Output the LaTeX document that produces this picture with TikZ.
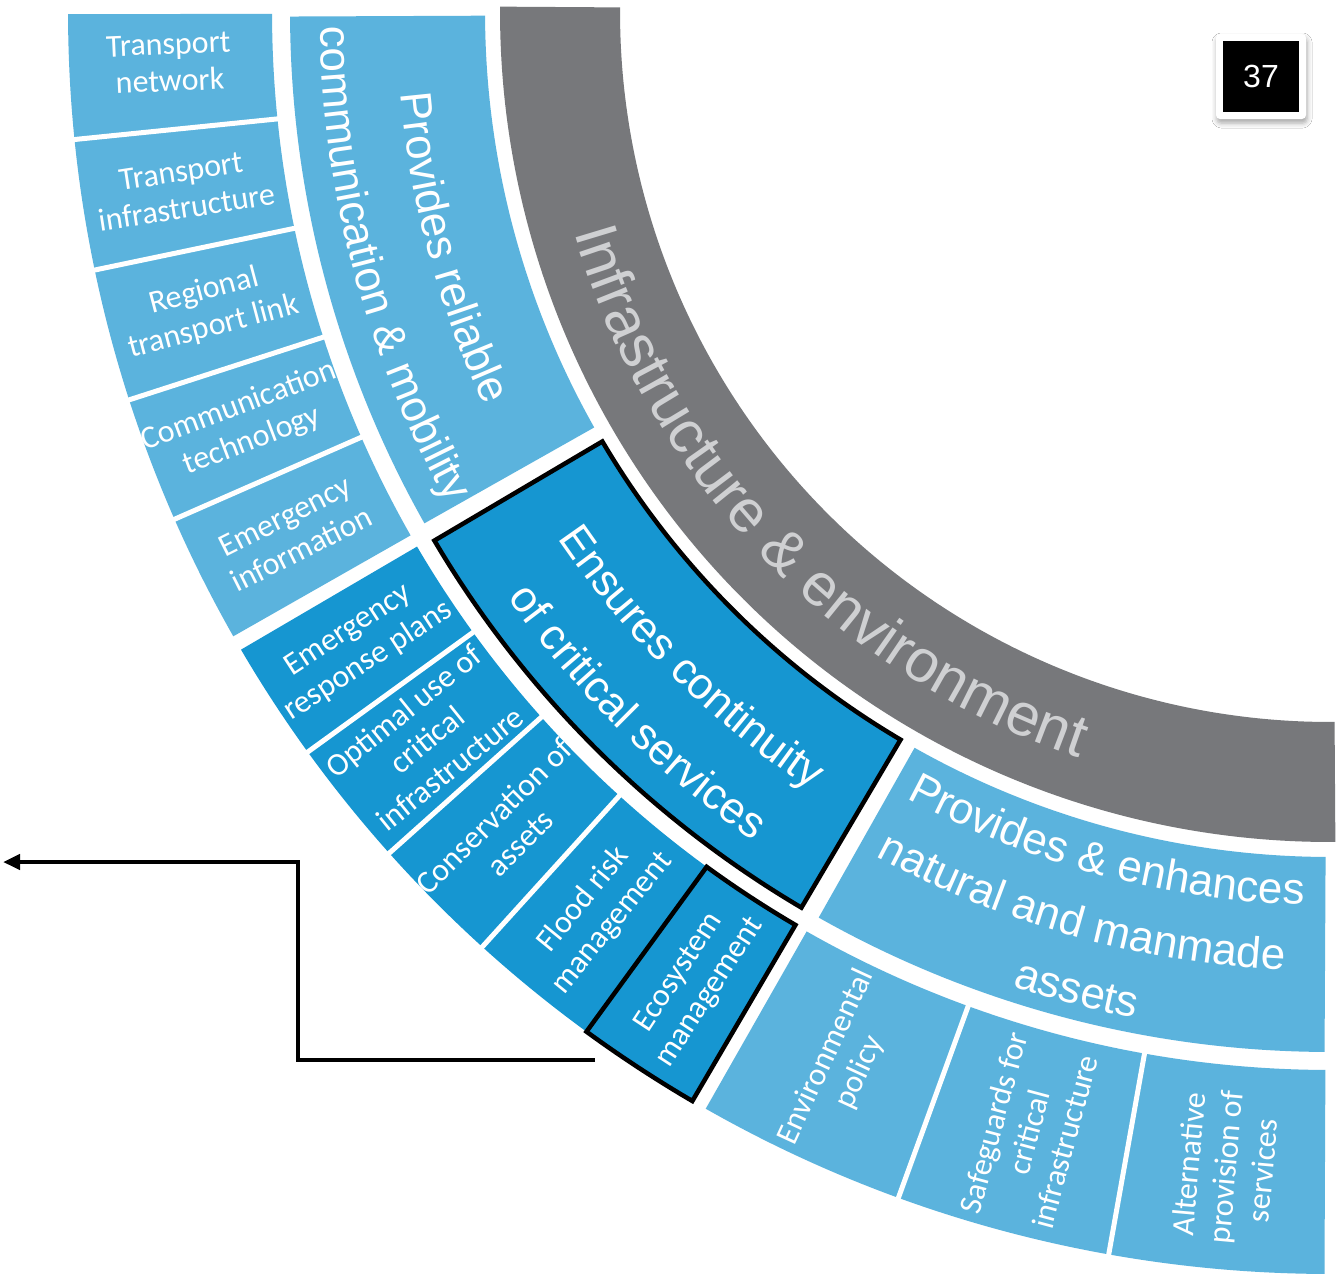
\documentclass[tikz,border=0pt]{standalone}
\usepackage{fontspec}
\setmainfont{Liberation Sans}
\newfontfamily\arialf{Liberation Sans}
\newfontfamily\carlitof{Carlito}
\usetikzlibrary{decorations.text,arrows.meta,shadows.blur}
\definecolor{lightblue}{HTML}{5BB3DD}
\definecolor{darkblue}{HTML}{1696D1}
\definecolor{ringgray}{HTML}{77787B}
\definecolor{graytext}{HTML}{CFD0D2}
\newcommand\mymid{\arialf\fontsize{44pt}{44pt}\selectfont}
\newcommand\mygray{\arialf\fontsize{60pt}{60pt}\selectfont}
\newcommand\myouter{\carlitof\fontsize{32pt}{37pt}\selectfont}
\newcommand\numfont{\arialf\fontsize{32pt}{32pt}\selectfont}
\newcommand\ringsector[5]{\path[#5] (#1:#3) arc[start angle=#1,end angle=#2,radius=#3] -- (#2:#4) arc[start angle=#2,end angle=#1,radius=#4] -- cycle;}
\tikzset{
  segtext/.style={text=white, align=center, font=\myouter, inner sep=0pt},
  sepline/.style={white, line width=5pt},
  outline/.style={draw=black, line width=4.5pt, line join=miter},
  connector/.style={line width=4.5pt, line join=miter, -{Triangle[length=17pt,width=15pt]}}
}
\begin{document}
\begin{tikzpicture}
\useasboundingbox (0,0) rectangle (1338pt,-1274pt);
\fill[white] (0,0) rectangle (1338pt,-1274pt);
\begin{scope}[shift={(1330pt,-12pt)}]
 % gray ring
 \ringsector{179.63}{270.37}{710pt}{830pt}{fill=ringgray}
 % middle ring
 \ringsector{180.25}{209.45}{845pt}{1040pt}{fill=lightblue}
 \ringsector{240.55}{269.7}{845pt}{1040pt}{fill=lightblue}
 \ringsector{210.55}{239.45}{845pt}{1040pt}{fill=darkblue, outline}
 % outer ring
 \ringsector{180.1}{209.65}{1058pt}{1262pt}{fill=lightblue}
 \ringsector{210.35}{239.65}{1058pt}{1262pt}{fill=darkblue}
 \ringsector{240.35}{269.75}{1058pt}{1262pt}{fill=lightblue}
 \foreach \a in {185.8,191.8,197.9,203.7,215.9,221.8,227.8,250,259.9}
   \draw[sepline] (\a:1050pt) -- (\a:1270pt);
 \ringsector{233.9}{239.65}{1058pt}{1262pt}{outline}
 % gray ring text
 \path[decorate,decoration={text along path,text align=center,text color=graytext,
   text={|\mygray|Infrastructure {\&} environment}}]
   (178.8:787pt) arc[start angle=178.8,end angle=268.8,radius=787pt];
 % middle ring texts
 \path[decorate,decoration={text along path,text align=center,text color=white,
   text={|\mymid|Provides reliable}}]
   (180:933pt) arc[start angle=180,end angle=210,radius=933pt];
 \path[decorate,decoration={text along path,text align=center,text color=white,
   text={|\mymid|communication {\&} mobility}}]
   (180:1010pt) arc[start angle=180,end angle=210,radius=1010pt];
 \path[decorate,decoration={text along path,text align=center,text color=white,
   text={|\mymid|Ensures continuity}}]
   (210.3:935pt) arc[start angle=210.3,end angle=240.3,radius=935pt];
 \path[decorate,decoration={text along path,text align=center,text color=white,
   text={|\mymid|of critical services}}]
   (210.3:1010pt) arc[start angle=210.3,end angle=240.3,radius=1010pt];
 \path[decorate,decoration={text along path,text align=center,text color=white,
   text={|\mymid|Provides {\&} enhances}}]
   (240:893pt) arc[start angle=240,end angle=270,radius=893pt];
 \path[decorate,decoration={text along path,text align=center,text color=white,
   text={|\mymid|natural and manmade}}]
   (239.5:959pt) arc[start angle=239.5,end angle=269.5,radius=959pt];
 \path[decorate,decoration={text along path,text align=center,text color=white,
   text={|\mymid|assets}}]
   (240.5:1025pt) arc[start angle=240.5,end angle=270.5,radius=1025pt];
 % outer ring texts
 \node[segtext, rotate=2.5]   (tnet)  at (182.5:1162pt) {Transport\\network};
 \node[segtext, rotate=8.8]   (tinf)  at (188.8:1160pt)  {Transport\\infrastructure};
 \node[segtext, rotate=14.85] (rlink) at (194.85:1160pt) {Regional\\transport link};
 \node[segtext, rotate=20.8]  (ctech) at (200.8:1160pt)  {Communication\\technology};
 \node[segtext, rotate=26.68] (einfo) at (206.68:1160pt) {Emergency\\information};
 \node[segtext, rotate=33.13] (eresp) at (213.13:1160pt) {Emergency\\response plans};
 \node[segtext, rotate=38.85] (optim) at (218.85:1160pt) {Optimal use of\\critical\\infrastructure};
 \node[segtext, rotate=44.8]  (cons)  at (224.8:1160pt)  {Conservation of\\assets};
 \node[segtext, rotate=50.85] (flood) at (230.85:1160pt) {Flood risk\\management};
 \node[segtext, rotate=56.78] (ecos)  at (236.78:1160pt) {Ecosystem\\management};
 \node[segtext, rotate=65.18] (envp)  at (245.18:1160pt) {Environmental\\policy};
 \node[segtext, rotate=74.95] (safe)  at (254.95:1160pt) {Safeguards for\\critical\\infrastructure};
 \node[segtext, rotate=84.83] (alt)   at (264.83:1160pt) {Alternative\\provision of\\services};
\end{scope}
% connector
\coordinate (arrowstart) at (595pt,-1060pt);
\coordinate (arrowbend) at (298pt,-862pt);
\coordinate (arrowend) at (3pt,-862pt);
\draw[connector] (arrowstart) -| (arrowbend) -- (arrowend);
% page number
\node[fill=white, rounded corners=4pt, minimum width=90pt, minimum height=85pt,
  blur shadow={shadow xshift=1pt, shadow yshift=-4pt, shadow blur radius=5pt, shadow opacity=35}] (pagebox) at (1261pt,-76.5pt) {};
\node[fill=black, minimum width=76pt, minimum height=71pt, text=white, font=\numfont, inner sep=0pt] (pagenum) at (pagebox.center) {37};
\end{tikzpicture}
\end{document}
